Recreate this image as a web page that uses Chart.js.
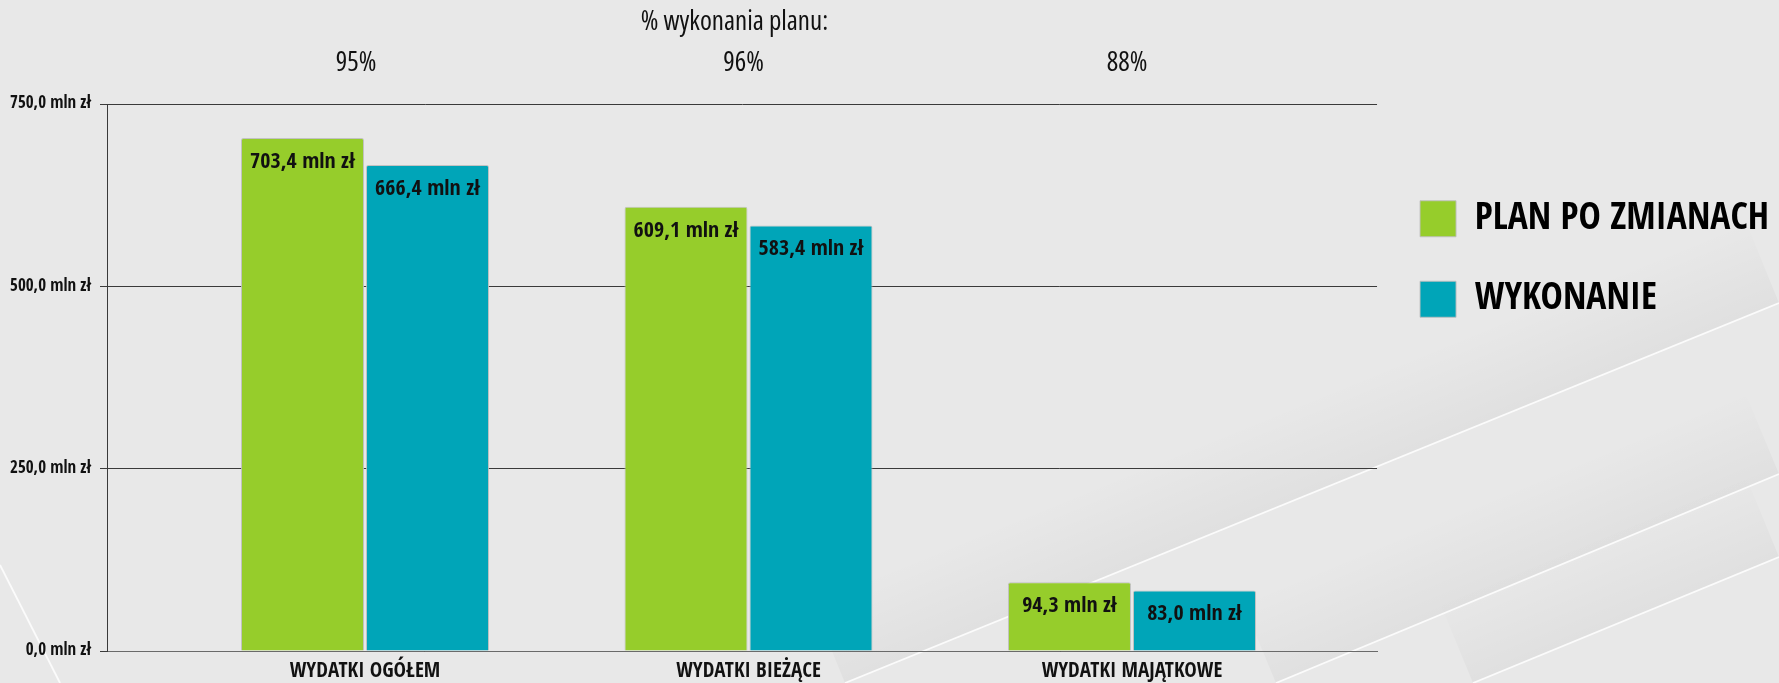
<!DOCTYPE html>
<html>
<head>
<meta charset="utf-8">
<script src="https://cdn.jsdelivr.net/npm/chart.js@4.4.1/dist/chart.umd.min.js"></script>
<style>
  html, body { margin: 0; padding: 0; background: #e8e8e8; }
  #wrap { width: 1779px; height: 683px; position: relative; }
</style>
</head>
<body>
<div id="wrap"><canvas id="myChart"></canvas></div>
<script>
var categories = ['WYDATKI OGÓŁEM', 'WYDATKI BIEŻĄCE', 'WYDATKI MAJĄTKOWE'];
var planValues = [703.4, 609.1, 94.3];
var wykonanieValues = [666.4, 583.4, 83.0];
var percentLabels = ['95%', '96%', '88%'];
var yTickValues = [0, 250, 500, 750];
var seriesNames = ['PLAN PO ZMIANACH', 'WYKONANIE'];

var COND = "'Open Sans Condensed', 'Liberation Sans', sans-serif";

function mln(v) {
    return v.toFixed(1).replace('.', ',') + ' mln zł';
}

// tlo: jasnoszare z ukosnymi bialymi liniami
var bgPlugin = {
    id: 'bg',
    beforeDraw: function(chart) {
        var c = chart.ctx;
        c.save();
        c.fillStyle = '#e8e8e8';
        c.fillRect(0, 0, chart.width, chart.height);
        var lines = [[845, 683, 1779, 303], [1276, 683, 1779, 474], [1473, 683, 1779, 557]];
        for (var i = 0; i < lines.length; i++) {
            var l = lines[i];
            var dx = l[2] - l[0], dy = l[3] - l[1];
            var len = Math.sqrt(dx * dx + dy * dy);
            var nx = dy / len, ny = -dx / len;
            var off = 90;
            var g = c.createLinearGradient(l[0], l[1], l[0] + nx * off, l[1] + ny * off);
            g.addColorStop(0, 'rgba(0,0,0,0.035)');
            g.addColorStop(1, 'rgba(0,0,0,0)');
            c.fillStyle = g;
            c.beginPath();
            c.moveTo(l[0], l[1]);
            c.lineTo(l[2], l[3]);
            c.lineTo(l[2] + nx * off, l[3] + ny * off);
            c.lineTo(l[0] + nx * off, l[1] + ny * off);
            c.closePath();
            c.fill();
        }
        lines.push([0, 565, 60, 683]);
        c.strokeStyle = '#fbfbfb';
        c.lineWidth = 1.8;
        for (var j = 0; j < lines.length; j++) {
            c.beginPath();
            c.moveTo(lines[j][0], lines[j][1]);
            c.lineTo(lines[j][2], lines[j][3]);
            c.stroke();
        }
        c.restore();
    }
};

var labelsPlugin = {
    id: 'valueLabels',
    afterDatasetsDraw: function(chart) {
        var c = chart.ctx;
        c.save();
        c.fillStyle = '#111';
        c.textAlign = 'center';
        c.textBaseline = 'middle';
        c.font = 'bold 22px ' + COND;
        chart.data.datasets.forEach(function(ds, di) {
            var meta = chart.getDatasetMeta(di);
            meta.data.forEach(function(bar, i) {
                c.fillText(mln(ds.data[i].y), bar.x, bar.y + 24);
            });
        });
        // % wykonania planu nad grupami
        var xs = chart.scales.x;
        c.fillStyle = '#111';
        c.font = "400 semi-condensed 27px 'Open Sans', sans-serif";
        c.fillText('% wykonania planu:', xs.getPixelForValue(1) - 14, 22);
        for (var i = 0; i < percentLabels.length; i++) {
            c.fillText(percentLabels[i], xs.getPixelForValue(i) - (i === 0 ? 9 : 5), 63);
        }
        c.restore();
    }
};

var ctx = document.getElementById('myChart').getContext('2d');
var chart = new Chart(ctx, {
    type: 'bar',
    data: {
        datasets: [
            {
                label: seriesNames[0],
                data: planValues.map(function(v, i) { return {x: i, y: v}; }),
                backgroundColor: '#96cd2b',
                borderColor: 'rgba(190,190,190,0.9)',
                borderWidth: 1,
                borderSkipped: 'bottom',
                borderRadius: 2
            },
            {
                label: seriesNames[1],
                data: wykonanieValues.map(function(v, i) { return {x: i, y: v}; }),
                backgroundColor: '#00a5b8',
                borderColor: 'rgba(190,190,190,0.9)',
                borderWidth: 1,
                borderSkipped: 'bottom',
                borderRadius: 2
            }
        ]
    },
    options: {
        responsive: true,
        maintainAspectRatio: false,
        animation: false,
        categoryPercentage: 0.652,
        barPercentage: 0.984,
        layout: { padding: { top: 104, right: 0, bottom: 0, left: 0 } },
        plugins: {
            tooltip: { enabled: false },
            legend: {
                position: 'right',
                align: 'start',
                title: { display: true, text: ' ', font: { size: 10 }, padding: { top: 41, bottom: 0 } },
                labels: {
                    boxWidth: 36,
                    boxHeight: 36,
                    padding: 43,
                    color: '#000',
                    font: { family: COND, size: 37.5, weight: 'bold' }
                }
            }
        },
        scales: {
            x: {
                type: 'linear',
                offset: false,
                min: -0.6728,
                max: 2.639,
                afterFit: function(s) { s.height = 32; },
                grid: { display: false, drawTicks: false },
                border: { display: true, color: '#6a6a6a', width: 1 },
                ticks: {
                    stepSize: 1,
                    includeBounds: false,
                    padding: 8,
                    autoSkip: false,
                    maxRotation: 0,
                    color: '#111',
                    font: { family: COND, size: 21, weight: 'bold' },
                    callback: function(v) { return categories[v] || ''; }
                }
            },
            y: {
                min: 0,
                max: 750,
                afterFit: function(s) { s.width = 107; },
                afterBuildTicks: function(s) { s.ticks = yTickValues.map(function(v) { return {value: v}; }); },
                grid: { color: '#3a3a3a', lineWidth: 1, tickLength: 7 },
                border: { display: true, color: '#3a3a3a', width: 1 },
                ticks: {
                    padding: 9,
                    color: '#111',
                    font: { family: COND, size: 17, weight: 'bold' },
                    callback: function(v) { return mln(v); }
                }
            }
        }
    },
    plugins: [bgPlugin, labelsPlugin]
});
</script>
</body>
</html>
